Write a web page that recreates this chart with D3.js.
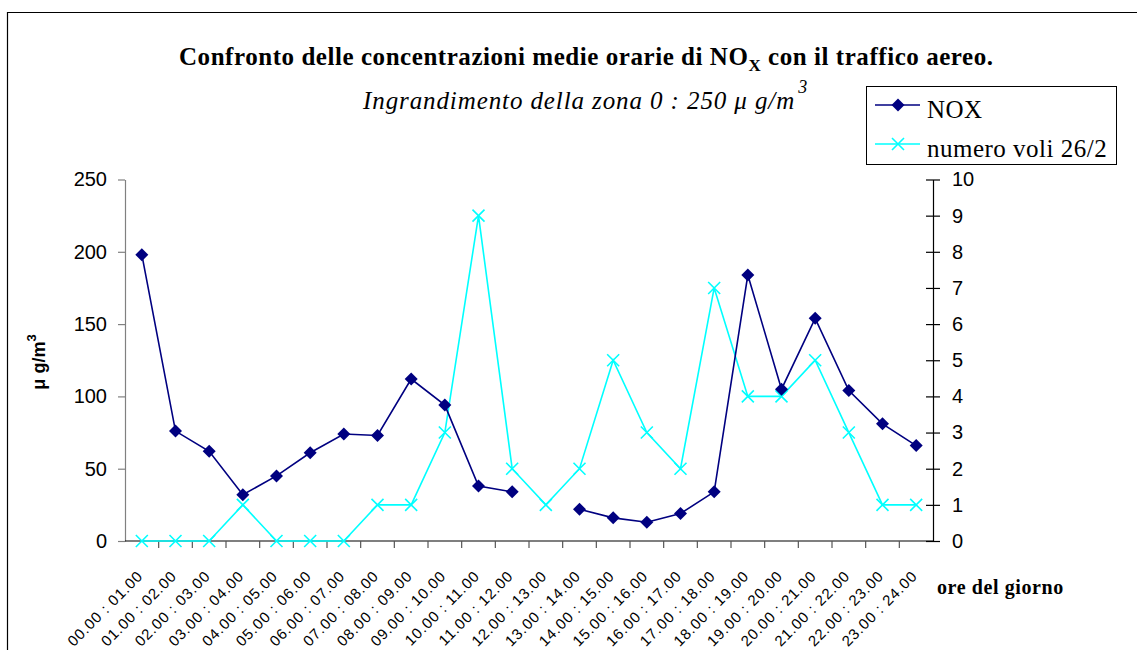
<!DOCTYPE html>
<html>
<head>
<meta charset="utf-8">
<script src="https://cdn.jsdelivr.net/npm/d3@7"></script>
<style>
  body { margin: 0; background: #fff; }
  svg { display: block; }
</style>
</head>
<body>
<svg id="chart" width="1137" height="650"></svg>
<script>
// hourly slots on the x axis
const hours = [
  "00.00 : 01.00", "01.00 : 02.00", "02.00 : 03.00", "03.00 : 04.00",
  "04.00 : 05.00", "05.00 : 06.00", "06.00 : 07.00", "07.00 : 08.00",
  "08.00 : 09.00", "09.00 : 10.00", "10.00 : 11.00", "11.00 : 12.00",
  "12.00 : 13.00", "13.00 : 14.00", "14.00 : 15.00", "15.00 : 16.00",
  "16.00 : 17.00", "17.00 : 18.00", "18.00 : 19.00", "19.00 : 20.00",
  "20.00 : 21.00", "21.00 : 22.00", "22.00 : 23.00", "23.00 : 24.00"
];
// NOx (µg/m3), missing value at 12-13
const nox = [198, 76, 62, 32, 45, 61, 74, 73, 112, 94, 38, 34,
             null, 22, 16, 13, 19, 34, 184, 105, 154, 104, 81, 66];
// number of flights 26/2
const voli = [0, 0, 0, 1, 0, 0, 0, 1, 1, 3, 9, 2,
              1, 2, 5, 3, 2, 7, 4, 4, 5, 3, 1, 1];
const leftTicks = [0, 50, 100, 150, 200, 250];
const rightTicks = [0, 1, 2, 3, 4, 5, 6, 7, 8, 9, 10];

const NAVY = "#000080";
const CYAN = "#00ffff";
const SERIF = "'Liberation Serif', 'Times New Roman', serif";
const SANS = "'Liberation Sans', Arial, sans-serif";

const plot = { left: 125, right: 933, top: 179.5, bottom: 541 };

const svg = d3.select("#chart");

// outer frame (only left and top edges visible)
svg.append("path")
  .attr("d", "M7.5,650 V12.5 H1137")
  .attr("fill", "none")
  .attr("stroke", "#000")
  .attr("stroke-width", 1.2);

const x = d3.scaleBand()
  .domain(hours)
  .range([plot.left, plot.right]);

const y1 = d3.scaleLinear()
  .domain([0, 250])
  .range([plot.bottom, plot.top]);

const y2 = d3.scaleLinear()
  .domain([0, 10])
  .range([plot.bottom, plot.top]);

const cx = d => x(d) + x.bandwidth() / 2;

// title
const title = svg.append("text")
  .attr("x", 179)
  .attr("y", 65)
  .style("font-family", SERIF)
  .style("font-weight", "bold")
  .style("font-size", "25px")
  .style("letter-spacing", "0.55px");
title.append("tspan").text("Confronto delle concentrazioni medie orarie di NO");
title.append("tspan").attr("dy", 6).style("font-size", "17px").text("X");
title.append("tspan").attr("dy", -6).text(" con il traffico aereo.");

// subtitle
const sub = svg.append("text")
  .attr("x", 363)
  .attr("y", 109)
  .style("font-family", SERIF)
  .style("font-style", "italic")
  .style("font-size", "25px")
  .style("letter-spacing", "0.9px");
sub.append("tspan").text("Ingrandimento della zona 0 : 250  \u03bc g/m");
sub.append("tspan").attr("dx", 3).attr("dy", -16).style("font-size", "18px").text("3");

// left axis
const yAxisL = svg.append("g")
  .attr("transform", `translate(${plot.left},0)`)
  .call(d3.axisLeft(y1).tickValues(leftTicks).tickSize(7).tickPadding(11).tickSizeOuter(0));
yAxisL.select(".domain").attr("stroke", "#808080").attr("stroke-width", 1.2);
yAxisL.selectAll(".tick line").attr("stroke", "#808080").attr("stroke-width", 1.2);
yAxisL.selectAll(".tick text")
  .style("font-family", SANS)
  .style("font-size", "20px")
  .attr("fill", "#000");

// right axis, ticks crossing the line
const yAxisR = svg.append("g")
  .attr("transform", `translate(${plot.right},0)`)
  .call(d3.axisRight(y2).tickValues(rightTicks).tickSize(7).tickPadding(12).tickSizeOuter(0));
yAxisR.select(".domain").attr("stroke", "#000").attr("stroke-width", 1.2);
yAxisR.selectAll(".tick line")
  .attr("x1", -7)
  .attr("stroke", "#000").attr("stroke-width", 1.2);
yAxisR.selectAll(".tick text")
  .style("font-family", SANS)
  .style("font-size", "20px")
  .attr("fill", "#000");

// x axis: ticks on category boundaries
const xAxis = svg.append("g")
  .attr("transform", `translate(0,${plot.bottom})`);
xAxis.append("line")
  .attr("x1", plot.left).attr("x2", plot.right)
  .attr("stroke", "#000").attr("stroke-width", 1.2);
xAxis.selectAll("line.tk")
  .data(hours.slice(1))
  .join("line")
  .attr("class", "tk")
  .attr("x1", d => x(d)).attr("x2", d => x(d))
  .attr("y1", 0).attr("y2", 7)
  .attr("stroke", "#555").attr("stroke-width", 1.2);
xAxis.selectAll("text")
  .data(hours)
  .join("text")
  .attr("transform", d => `translate(${cx(d) + 2},${36}) rotate(-45)`)
  .attr("text-anchor", "end")
  .style("font-family", SANS)
  .style("font-size", "15px")
  .style("letter-spacing", "0.9px")
  .text(d => d);

// axis titles
svg.append("text")
  .attr("transform", "translate(45,362) rotate(-90)")
  .attr("text-anchor", "middle")
  .style("font-family", SANS)
  .style("font-weight", "bold")
  .style("font-size", "18px")
  .call(t => {
    t.append("tspan").text("\u03bc g/m");
    t.append("tspan").attr("dy", -9).style("font-size", "13px").text("3");
  });

svg.append("text")
  .attr("x", 937)
  .attr("y", 594)
  .style("font-family", SERIF)
  .style("font-weight", "bold")
  .style("font-size", "20px")
  .style("letter-spacing", "0.6px")
  .text("ore del giorno");

// flights series (secondary axis)
const lineV = d3.line()
  .x((d, i) => cx(hours[i]))
  .y(d => y2(d));
svg.append("path")
  .datum(voli)
  .attr("d", lineV)
  .attr("fill", "none")
  .attr("stroke", CYAN)
  .attr("stroke-width", 1.6);

const xMark = "M-6,-6L6,6M-6,6L6,-6";
svg.append("g").selectAll("path")
  .data(voli)
  .join("path")
  .attr("transform", (d, i) => `translate(${cx(hours[i])},${y2(d)})`)
  .attr("d", xMark)
  .attr("stroke", CYAN)
  .attr("stroke-width", 1.6);

// NOx series
const lineN = d3.line()
  .defined(d => d != null)
  .x((d, i) => cx(hours[i]))
  .y(d => y1(d));
svg.append("path")
  .datum(nox)
  .attr("d", lineN)
  .attr("fill", "none")
  .attr("stroke", NAVY)
  .attr("stroke-width", 1.6);

const diamond = "M0,-6.5L6.5,0L0,6.5L-6.5,0Z";
svg.append("g").selectAll("path")
  .data(nox.map((v, i) => ({ v, h: hours[i] })).filter(d => d.v != null))
  .join("path")
  .attr("transform", d => `translate(${cx(d.h)},${y1(d.v)})`)
  .attr("d", diamond)
  .attr("fill", NAVY);

// legend
const legend = svg.append("g");
legend.append("rect")
  .attr("x", 866.5).attr("y", 86.5)
  .attr("width", 250).attr("height", 78)
  .attr("fill", "#fff")
  .attr("stroke", "#000")
  .attr("stroke-width", 1);

const legendItems = [
  { name: "NOX", color: NAVY, mark: diamond, fill: NAVY },
  { name: "numero voli 26/2", color: CYAN, mark: xMark, fill: "none" }
];
legendItems.forEach((it, i) => {
  const yy = 105 + i * 39;
  legend.append("line")
    .attr("x1", 875).attr("x2", 920)
    .attr("y1", yy).attr("y2", yy)
    .attr("stroke", it.color).attr("stroke-width", 1.6);
  legend.append("path")
    .attr("transform", `translate(898,${yy})`)
    .attr("d", it.mark)
    .attr("fill", it.fill)
    .attr("stroke", it.fill === "none" ? it.color : "none")
    .attr("stroke-width", 1.6);
  legend.append("text")
    .attr("x", 927).attr("y", yy + 13)
    .style("font-family", SERIF)
    .style("font-size", "25px")
    .style("letter-spacing", "0.5px")
    .text(it.name);
});
</script>
</body>
</html>
